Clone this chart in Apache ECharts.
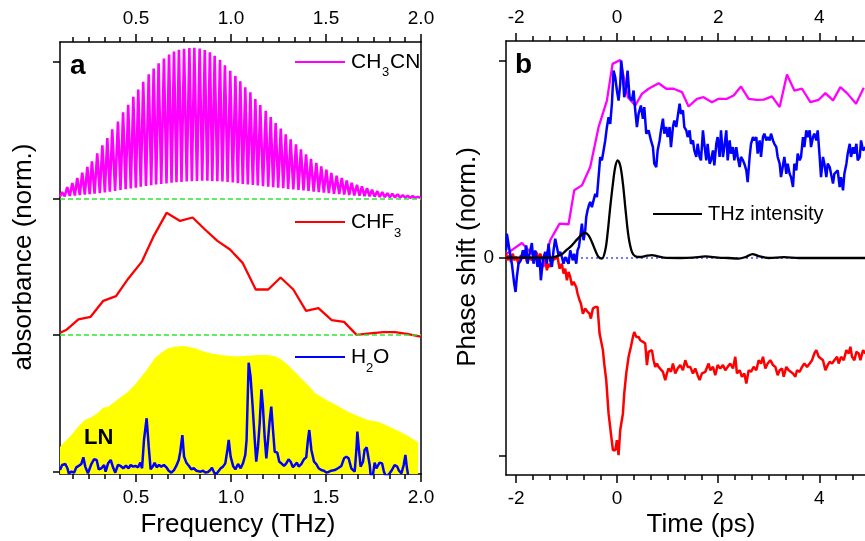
<!DOCTYPE html>
<html><head><meta charset="utf-8">
<script src="https://cdn.jsdelivr.net/npm/echarts@6/dist/echarts.min.js"></script>
<style>html,body{margin:0;padding:0;background:#fff}#c{width:865px;height:541px}</style>
</head><body><div id="c"></div>
<script>
// ---------- Panel a : tick values ----------
const majorA = [0.5, 1.0, 1.5, 2.0];
const minorA = [0.1667,0.25,0.3333,0.4167,0.5833,0.6667,0.75,0.8333,0.9167,1.0833,1.1667,1.25,1.3333,1.4167,1.5833,1.6667,1.75,1.8333,1.9167];
const yTicksA = [0, 1, 2, 3];
// ---------- Panel b : tick values ----------
const majorB = [-2, 0, 2, 4];
const minorB = [-1.6667,-1.3333,-1,-0.6667,-0.3333,0.3333,0.6667,1,1.3333,1.6667,2.3333,2.6667,3,3.3333,3.6667,4.3333,4.6667,5,5.3333];
const yTicksB = [-1, 0, 1];
const yLabelsB = [0];

// ---------- Panel a data ----------
// CH3CN comb: peak frequencies, peak heights, valley heights (offset +2)
const cnPeakF = [0.111,0.138,0.165,0.191,0.217,0.244,0.268,0.296,0.323,0.349,0.375,0.405,0.432,0.459,0.486,0.512,0.538,0.567,0.593,0.619,0.647,0.674,0.700,0.726,0.753,0.781,0.807,0.835,0.862,0.889,0.914,0.942,0.968,0.996,1.023,1.049,1.075,1.102,1.128,1.154,1.183,1.209,1.235,1.262,1.288,1.314,1.342,1.368,1.395,1.421,1.449,1.475,1.502,1.528,1.556,1.583,1.609,1.635,1.663,1.689,1.716,1.742,1.770,1.796,1.823,1.849,1.877,1.904,1.930,1.956,1.984];
const cnPeakH = [0.047,0.084,0.113,0.150,0.190,0.232,0.273,0.330,0.389,0.443,0.507,0.564,0.631,0.687,0.744,0.798,0.855,0.909,0.951,0.990,1.025,1.054,1.076,1.089,1.096,1.101,1.103,1.098,1.088,1.070,1.045,1.015,0.975,0.935,0.897,0.858,0.815,0.778,0.729,0.685,0.643,0.596,0.552,0.512,0.471,0.434,0.397,0.360,0.323,0.290,0.261,0.236,0.212,0.187,0.168,0.150,0.133,0.116,0.101,0.089,0.076,0.064,0.054,0.047,0.039,0.035,0.030,0.024,0.020,0.017,0.012];
const cnValley = [0.014,0.016,0.019,0.022,0.025,0.028,0.032,0.036,0.040,0.045,0.050,0.056,0.062,0.068,0.074,0.080,0.086,0.092,0.097,0.102,0.107,0.111,0.115,0.119,0.122,0.125,0.127,0.129,0.130,0.130,0.129,0.127,0.124,0.121,0.117,0.112,0.107,0.103,0.099,0.095,0.091,0.087,0.083,0.079,0.075,0.071,0.067,0.063,0.059,0.055,0.051,0.047,0.043,0.039,0.035,0.032,0.029,0.026,0.023,0.020,0.018,0.016,0.014,0.012,0.010,0.009,0.008,0.007,0.006,0.005,0.005,0.004];
// CHF3 (offset +1)
const chfF = [0.100,0.132,0.197,0.261,0.328,0.395,0.460,0.530,0.591,0.661,0.732,0.798,0.863,0.930,0.995,1.061,1.130,1.196,1.261,1.328,1.395,1.460,1.530,1.595,1.661,1.732,1.802,1.863,1.933,1.998];
const chfV = [0.017,0.037,0.115,0.134,0.251,0.285,0.415,0.536,0.719,0.895,0.836,0.861,0.773,0.688,0.627,0.529,0.334,0.334,0.422,0.334,0.178,0.198,0.110,0.097,0.002,0.012,0.022,0.022,0.007,-0.012];
// H2O
const h2oF = [0.100,0.111,0.128,0.139,0.146,0.160,0.174,0.186,0.198,0.212,0.223,0.233,0.247,0.265,0.279,0.293,0.304,0.318,0.332,0.340,0.353,0.367,0.379,0.391,0.405,0.419,0.433,0.447,0.461,0.472,0.484,0.497,0.511,0.523,0.532,0.542,0.556,0.567,0.577,0.590,0.598,0.609,0.621,0.633,0.647,0.660,0.672,0.686,0.700,0.712,0.725,0.733,0.744,0.753,0.765,0.779,0.791,0.804,0.818,0.826,0.840,0.853,0.865,0.879,0.891,0.900,0.911,0.923,0.935,0.946,0.958,0.970,0.981,0.988,0.998,1.011,1.023,
 1.037,1.051,1.063,1.075,1.082,1.093,1.103,1.114,1.125,1.133,1.142,1.151,1.160,1.168,1.177,1.186,1.195,1.203,1.212,1.221,1.230,1.244,1.254,1.265,1.279,1.291,1.303,1.314,1.326,1.335,1.347,1.356,1.370,1.384,1.396,1.405,1.412,1.423,1.437,1.449,1.461,1.475,1.489,1.502,1.514,1.528,1.546,1.563,1.581,1.595,1.607,1.619,1.633,1.651,1.660,1.665,1.672,1.682,1.695,1.703,1.714,1.721,1.730,1.735,1.747,1.756,1.765,1.774,1.782,1.795,1.805,1.812,1.823,1.835,1.847,1.861,1.875,1.884,1.897,1.909,1.918,1.925,1.932];
const h2oV = [0.012,0.049,0.056,0.025,-0.012,0.000,-0.007,0.032,0.042,0.056,0.105,0.037,-0.012,0.056,0.091,0.086,0.017,0.025,0.049,0.000,0.061,0.086,0.032,-0.007,0.049,0.042,0.025,0.044,0.025,0.049,0.037,0.042,0.032,0.066,0.025,0.232,0.391,0.183,0.017,0.042,0.066,0.032,0.049,0.037,0.049,0.032,0.007,-0.007,0.012,0.042,0.086,0.146,0.268,0.110,0.066,0.042,0.017,0.025,0.007,0.017,0.000,0.007,-0.007,-0.002,0.012,0.029,-0.007,-0.017,0.005,0.025,0.037,0.061,0.159,0.232,0.110,0.042,0.017,
 0.056,0.025,0.061,0.122,0.232,0.798,0.695,0.476,0.232,0.073,0.183,0.354,0.603,0.476,0.256,0.098,0.232,0.366,0.476,0.305,0.146,0.139,0.073,0.061,0.042,0.061,0.091,0.073,0.032,0.042,0.066,0.037,0.056,0.091,0.105,0.232,0.305,0.159,0.073,0.056,0.025,0.012,0.007,-0.007,-0.002,0.007,0.012,0.025,0.042,0.098,0.110,0.098,0.025,0.000,0.159,0.293,0.183,0.037,0.073,0.159,0.178,0.171,0.049,-0.024,-0.024,0.066,0.025,0.037,0.066,0.061,0.000,-0.024,-0.032,-0.012,0.012,0.049,0.037,0.007,-0.012,0.049,0.122,0.037,-0.024];
// LN spectrum (yellow)
const lnF = [0.100,0.125,0.160,0.195,0.230,0.265,0.300,0.326,0.353,0.388,0.423,0.458,0.493,0.528,0.563,0.598,0.633,0.668,0.704,0.739,0.774,0.809,0.844,0.879,0.914,0.949,0.984,1.019,1.037,1.090,1.142,1.195,1.230,1.265,1.300,1.335,1.370,1.405,1.440,1.475,1.510,1.563,1.616,1.668,1.721,1.774,1.826,1.879,1.932,1.984];
const lnV = [0.180,0.220,0.268,0.329,0.378,0.398,0.432,0.468,0.476,0.512,0.549,0.585,0.634,0.695,0.757,0.830,0.871,0.903,0.915,0.920,0.915,0.903,0.885,0.871,0.861,0.854,0.849,0.846,0.846,0.849,0.854,0.854,0.846,0.822,0.781,0.732,0.683,0.634,0.578,0.549,0.520,0.481,0.439,0.408,0.378,0.366,0.334,0.300,0.262,0.215];

// ---------- Panel b data ----------
const redT = [-2.196,-2.170,-2.130,-2.104,-2.064,-2.038,-1.998,-1.952,-1.906,-1.866,-1.820,-1.787,-1.734,-1.688,-1.655,-1.602,-1.556,-1.523,-1.470,-1.424,-1.391,-1.358,-1.325,-1.272,-1.226,-1.180,-1.140,-1.094,-1.061,-1.028,-0.995,-0.962,-0.929,-0.896,-0.863,-0.810,-0.784,-0.744,-0.718,-0.678,-0.632,-0.586,-0.546,-0.520,-0.480,-0.434,-0.388,-0.348,-0.315,-0.282,-0.256,-0.216,-0.170,-0.124,-0.084,-0.038,-0.005,0.028,0.061,0.114,0.140,0.180,0.226,0.272,0.312,0.339,0.378,0.424,0.457,0.510,0.556,0.589,0.622,0.655,0.688,0.721,0.754,0.787,0.820,0.853,0.906,0.952,0.985,1.018,1.065,1.104,1.150,1.197,1.249,1.302,1.348,1.395,1.447,1.500,1.546,1.593,
 1.632,1.678,1.744,1.810,1.843,1.896,1.942,1.989,2.041,2.094,2.140,2.187,2.239,2.292,2.338,2.371,2.424,2.470,2.517,2.556,2.603,2.649,2.702,2.754,2.801,2.847,2.886,2.933,2.979,3.032,3.084,3.131,3.177,3.216,3.263,3.296,3.348,3.395,3.428,3.480,3.527,3.560,3.612,3.659,3.705,3.758,3.810,3.857,3.903,3.942,3.989,4.022,4.074,4.121,4.167,4.206,4.253,4.299,4.352,4.385,4.431,4.484,4.537,4.583,4.616,4.649,4.695,4.735,4.781,4.814,4.867,4.913];
const redV = [0.022,-0.012,0.014,-0.020,0.022,-0.012,0.005,-0.029,0.014,-0.003,0.019,-0.020,0.005,-0.012,0.014,0.031,-0.003,0.022,-0.012,0.005,-0.062,-0.029,-0.045,-0.012,-0.003,0.005,-0.054,-0.029,-0.079,-0.054,-0.113,-0.071,-0.096,-0.138,-0.121,-0.147,-0.180,-0.214,-0.231,-0.282,-0.256,-0.273,-0.282,-0.307,-0.256,-0.248,-0.248,-0.383,-0.391,-0.467,-0.535,-0.619,-0.788,-0.889,-0.974,-0.974,-0.923,-0.999,-0.872,-0.788,-0.687,-0.585,-0.501,-0.450,-0.400,-0.375,-0.400,-0.400,-0.417,-0.425,-0.434,-0.543,-0.476,-0.484,-0.467,-0.518,-0.552,-0.535,-0.552,-0.543,-0.577,-0.619,-0.585,-0.560,-0.577,-0.535,-0.585,-0.560,-0.543,-0.569,-0.518,-0.552,-0.552,-0.585,-0.560,-0.594,
 -0.619,-0.585,-0.577,-0.535,-0.569,-0.552,-0.594,-0.543,-0.560,-0.543,-0.569,-0.552,-0.535,-0.560,-0.501,-0.585,-0.569,-0.602,-0.585,-0.636,-0.569,-0.577,-0.552,-0.569,-0.518,-0.535,-0.501,-0.560,-0.535,-0.518,-0.543,-0.552,-0.594,-0.569,-0.560,-0.602,-0.552,-0.569,-0.560,-0.585,-0.602,-0.569,-0.577,-0.552,-0.535,-0.552,-0.535,-0.518,-0.484,-0.467,-0.501,-0.501,-0.518,-0.569,-0.543,-0.526,-0.535,-0.518,-0.501,-0.535,-0.501,-0.518,-0.467,-0.484,-0.450,-0.501,-0.518,-0.476,-0.484,-0.518,-0.467,-0.484];
const blueT = [-2.196,-2.183,-2.130,-2.084,-2.038,-2.011,-1.985,-1.952,-1.906,-1.866,-1.840,-1.800,-1.774,-1.734,-1.688,-1.655,-1.622,-1.576,-1.536,-1.510,-1.470,-1.424,-1.391,-1.358,-1.325,-1.292,-1.259,-1.226,-1.193,-1.160,-1.127,-1.094,-1.061,-1.028,-0.995,-0.962,-0.929,-0.876,-0.850,-0.810,-0.784,-0.757,-0.731,-0.698,-0.665,-0.632,-0.612,-0.586,-0.559,-0.533,-0.500,-0.467,-0.434,-0.401,-0.368,-0.335,-0.302,-0.269,-0.236,-0.203,-0.170,-0.137,-0.104,-0.071,-0.038,-0.005,0.028,0.061,0.081,0.114,0.140,0.180,0.206,0.246,0.292,0.325,0.358,
 0.391,0.424,0.470,0.510,0.537,0.576,0.622,0.669,0.708,0.735,0.774,0.801,0.840,0.867,0.906,0.933,0.972,0.999,1.038,1.065,1.104,1.131,1.170,1.197,1.236,1.263,1.302,1.329,1.368,1.395,1.434,1.461,1.500,1.527,1.566,1.593,1.632,1.659,1.698,1.725,1.764,1.791,1.830,1.857,1.896,1.923,1.962,1.989,2.028,2.055,2.094,2.121,2.160,2.187,2.226,2.253,2.292,2.319,2.358,2.385,2.424,2.451,2.490,2.517,2.556,2.583,2.622,2.649,2.688,2.715,2.754,2.781,2.820,2.847,2.886,2.913,2.952,2.979,3.018,3.045,3.084,3.111,3.150,3.177,3.216,3.243,3.282,3.309,3.348,3.375,3.414,3.441,3.480,3.507,3.546,3.573,3.612,3.639,3.678,3.705,3.744,3.771,3.810,3.837,3.876,3.903,3.942,3.969,4.008,4.035,4.074,4.101,4.140,4.167,4.206,4.233,4.272,4.299,4.338,4.365,4.404,4.431,4.470,4.497,4.537,4.563,4.603,4.629,4.669,4.695,4.735,4.761,4.801,4.827,4.867,4.913];
const blueV = [0.039,0.123,0.039,-0.029,-0.130,-0.172,-0.096,-0.029,-0.012,0.039,-0.003,0.064,-0.029,0.022,0.076,-0.029,0.039,-0.045,0.005,-0.113,-0.012,0.031,-0.029,0.073,-0.012,-0.045,0.039,0.098,0.056,0.014,0.031,0.005,-0.029,0.005,-0.003,-0.029,0.039,-0.012,0.022,-0.029,0.039,0.056,0.107,0.174,0.090,0.140,0.208,0.242,0.267,0.284,0.258,0.292,0.326,0.309,0.410,0.512,0.495,0.545,0.596,0.663,0.714,0.680,0.782,0.950,0.917,0.849,0.798,0.883,1.001,0.917,0.815,0.866,0.950,0.815,0.798,0.849,0.748,
 0.664,0.731,0.773,0.706,0.765,0.630,0.647,0.596,0.562,0.478,0.461,0.545,0.596,0.647,0.706,0.630,0.664,0.613,0.664,0.562,0.664,0.697,0.664,0.714,0.782,0.731,0.748,0.664,0.647,0.613,0.647,0.579,0.596,0.545,0.512,0.579,0.512,0.495,0.647,0.579,0.495,0.579,0.478,0.495,0.545,0.469,0.579,0.613,0.512,0.647,0.512,0.562,0.647,0.495,0.596,0.529,0.562,0.495,0.562,0.512,0.461,0.512,0.495,0.478,0.444,0.385,0.512,0.579,0.613,0.596,0.613,0.529,0.596,0.512,0.613,0.630,0.596,0.613,0.596,0.630,0.596,0.579,0.562,0.512,0.478,0.410,0.410,0.512,0.427,0.478,0.427,0.410,0.360,0.478,0.444,0.529,0.495,0.512,0.613,0.562,0.647,0.613,0.647,0.562,0.613,0.630,0.596,0.647,0.512,0.410,0.512,0.478,0.410,0.478,0.461,0.461,0.377,0.427,0.427,0.444,0.360,0.410,0.343,0.427,0.478,0.529,0.579,0.512,0.562,0.529,0.579,0.495,0.512,0.596,0.545,0.562];
const magT = [-2.183,-1.886,-1.754,-1.622,-1.457,-1.325,-1.140,-0.962,-0.850,-0.698,-0.533,-0.368,-0.203,-0.091,0.061,0.213,0.358,0.490,0.622,0.820,0.972,1.117,1.282,1.414,1.579,1.711,1.876,2.008,2.173,2.305,2.451,2.603,2.768,2.900,3.065,3.216,3.361,3.507,3.659,3.824,3.989,4.121,4.273,4.418,4.563,4.728,4.880];
const magV = [0.022,0.076,0.039,0.005,-0.045,0.090,0.174,0.171,0.343,0.368,0.461,0.663,0.798,0.984,1.004,0.815,0.773,0.832,0.858,0.886,0.858,0.858,0.841,0.768,0.807,0.815,0.790,0.807,0.807,0.824,0.869,0.807,0.802,0.803,0.819,0.765,0.930,0.849,0.858,0.790,0.802,0.836,0.799,0.866,0.832,0.782,0.863];
const thzT = [-2.196,-1.325,-1.193,-1.094,-0.995,-0.896,-0.797,-0.698,-0.632,-0.566,-0.500,-0.434,-0.368,-0.302,-0.236,-0.190,-0.137,-0.084,-0.038,0.008,0.061,0.114,0.167,0.226,0.292,0.358,0.457,0.589,0.688,0.787,0.919,1.249,1.500,1.750,2.000,2.200,2.400,2.550,2.680,2.800,3.000,3.300,3.600,5.400];
const thzV = [0.002,0.002,0.009,0.019,0.042,0.064,0.093,0.118,0.127,0.115,0.081,0.039,0.005,-0.003,0.039,0.123,0.258,0.377,0.461,0.495,0.469,0.377,0.242,0.107,0.031,0.009,0.005,0.012,0.015,0.009,0.002,0.000,0.002,0.008,0.002,0.000,-0.003,0.006,0.020,0.010,0.000,0.004,0.000,0.000];

// ---------- build ----------
const zip = (a, b, off) => a.map((x, i) => [x, b[i] + (off || 0)]);
const cnData = [[0.1, 2 + cnValley[0]]];
for (let i = 0; i < cnPeakF.length; i++) {
  if (i > 0) cnData.push([(cnPeakF[i - 1] + cnPeakF[i]) / 2, 2 + cnValley[i]]);
  cnData.push([cnPeakF[i], 2 + cnPeakH[i]]);
}
cnData.push([2.0, 2 + cnValley[cnValley.length - 1]]);

const FONT = '"Liberation Sans", Arial, sans-serif';
const K = '#000';
function xAx(grid, pos, min, max, ticks, labels, len, lineShow, fmt) {
  return {
    type: 'value', gridIndex: grid, position: pos, min: min, max: max,
    axisLine: { show: lineShow, onZero: false, lineStyle: { color: K, width: 1.5 } },
    axisTick: { show: true, inside: false, length: len, customValues: ticks, lineStyle: { color: K, width: 1.5 } },
    axisLabel: labels ? { show: true, customValues: labels, margin: 14, fontSize: 19, color: K, fontFamily: FONT, hideOverlap: false,
      formatter: fmt } : { show: false },
    splitLine: { show: false }, minorTick: { show: false }
  };
}
function yAx(grid, pos, min, max, ticks, labels) {
  return {
    type: 'value', gridIndex: grid, position: pos, min: min, max: max,
    axisLine: { show: true, onZero: false, lineStyle: { color: K, width: 1.5 } },
    axisTick: ticks ? { show: true, inside: false, length: 7, customValues: ticks, lineStyle: { color: K, width: 1.5 } } : { show: false },
    axisLabel: labels ? { show: true, customValues: labels, margin: 12, fontSize: 19, color: K, fontFamily: FONT } : { show: false },
    splitLine: { show: false }
  };
}
const fmtA = v => v.toFixed(1);
const fmtB = v => String(Math.round(v));
function line(xi, yi, data, color, w, extra) {
  return Object.assign({ type: 'line', xAxisIndex: xi, yAxisIndex: yi, data: data, showSymbol: false, symbol: 'none',
    lineStyle: { color: color, width: w }, itemStyle: { color: color }, emphasis: { disabled: true }, silent: true, animation: false }, extra || {});
}

const option = {
  animation: false,
  backgroundColor: '#fff',
  grid: [
    { left: 60, top: 42, width: 361, height: 432, containLabel: false, outerBoundsMode: 'none' },
    { left: 506, top: 41, width: 384, height: 434, containLabel: false, outerBoundsMode: 'none' }
  ],
  xAxis: [
    xAx(0, 'bottom', 0.1, 2.0, majorA, majorA, 8, true, fmtA),
    xAx(0, 'top', 0.1, 2.0, majorA, majorA, 8, true, fmtA),
    xAx(0, 'bottom', 0.1, 2.0, minorA, null, 5, false),
    xAx(0, 'top', 0.1, 2.0, minorA, null, 5, false),
    xAx(1, 'bottom', -2.2, 5.4, majorB, majorB, 8, true, fmtB),
    xAx(1, 'top', -2.2, 5.4, majorB, majorB, 8, true, fmtB),
    xAx(1, 'bottom', -2.2, 5.4, minorB, null, 5, false),
    xAx(1, 'top', -2.2, 5.4, minorB, null, 5, false)
  ],
  yAxis: [
    yAx(0, 'left', -0.017, 3.146, yTicksA, null),
    yAx(0, 'right', -0.017, 3.146, null, null),
    yAx(1, 'left', -1.1, 1.1, yTicksB, yLabelsB),
    yAx(1, 'right', -1.1, 1.1, null, null)
  ],
  series: [
    line(0, 0, zip(lnF, lnV), '#ffff00', 0, { lineStyle: { width: 0, color: '#ffff00' }, areaStyle: { color: '#ffff00', opacity: 1, origin: 'start' }, z: 1 }),
    line(0, 0, cnData, '#ff00ff', 2.6, { z: 3,
      markLine: { silent: true, symbol: ['none', 'none'], label: { show: false }, animation: false,
        lineStyle: { color: '#2ee82e', type: [5, 3], width: 1.5 }, data: [{ yAxis: 2 }, { yAxis: 1 }] } }),
    line(0, 0, zip(chfF, chfV, 1), '#ff0000', 2.3, { z: 3 }),
    line(0, 0, zip(h2oF, h2oV), '#0000ff', 2.5, { z: 3 }),
    line(4, 2, [[-2.2, 0], [5.4, 0]], '#4a4aff', 1.5, { lineStyle: { color: '#4a4aff', width: 1.5, type: [2, 3] }, z: 2 }),
    line(4, 2, zip(magT, magV), '#ff00ff', 2.3, { z: 3 }),
    line(4, 2, zip(redT, redV), '#ff0000', 2.5, { z: 4 }),
    line(4, 2, zip(blueT, blueV), '#0000ff', 2.5, { z: 5 }),
    line(4, 2, zip(thzT, thzV), '#000000', 2.3, { z: 6, smooth: 0.35 })
  ],
  graphic: [
    { type: 'text', x: 70, y: 66, z: 100, style: { text: 'a', fontSize: 28, fontWeight: 'bold', fontFamily: FONT, fill: K, align: 'left', verticalAlign: 'middle' } },
    { type: 'text', x: 515, y: 65, z: 100, style: { text: 'b', fontSize: 28, fontWeight: 'bold', fontFamily: FONT, fill: K, align: 'left', verticalAlign: 'middle' } },
    { type: 'text', x: 84, y: 438, z: 100, style: { text: 'LN', fontSize: 22, fontWeight: 'bold', fontFamily: FONT, fill: K, align: 'left', verticalAlign: 'middle' } },
    // legends panel a
    { type: 'line', z: 100, shape: { x1: 295, y1: 62, x2: 345, y2: 62 }, style: { stroke: '#ff00ff', lineWidth: 2 } },
    { type: 'text', x: 351, y: 62, z: 100, style: { text: 'CH', fontSize: 21, fontFamily: FONT, fill: K, align: 'left', verticalAlign: 'middle' } },
    { type: 'text', x: 382, y: 72, z: 100, style: { text: '3', fontSize: 13, fontFamily: FONT, fill: K, align: 'left', verticalAlign: 'middle' } },
    { type: 'text', x: 390, y: 62, z: 100, style: { text: 'CN', fontSize: 21, fontFamily: FONT, fill: K, align: 'left', verticalAlign: 'middle' } },
    { type: 'line', z: 100, shape: { x1: 295, y1: 222, x2: 345, y2: 222 }, style: { stroke: '#ff0000', lineWidth: 2 } },
    { type: 'text', x: 351, y: 222, z: 100, style: { text: 'CHF', fontSize: 21, fontFamily: FONT, fill: K, align: 'left', verticalAlign: 'middle' } },
    { type: 'text', x: 394, y: 233, z: 100, style: { text: '3', fontSize: 13, fontFamily: FONT, fill: K, align: 'left', verticalAlign: 'middle' } },
    { type: 'line', z: 100, shape: { x1: 295, y1: 357, x2: 345, y2: 357 }, style: { stroke: '#0000ff', lineWidth: 2 } },
    { type: 'text', x: 351, y: 357, z: 100, style: { text: 'H', fontSize: 21, fontFamily: FONT, fill: K, align: 'left', verticalAlign: 'middle' } },
    { type: 'text', x: 366, y: 368, z: 100, style: { text: '2', fontSize: 13, fontFamily: FONT, fill: K, align: 'left', verticalAlign: 'middle' } },
    { type: 'text', x: 373, y: 357, z: 100, style: { text: 'O', fontSize: 21, fontFamily: FONT, fill: K, align: 'left', verticalAlign: 'middle' } },
    // legend panel b
    { type: 'line', z: 100, shape: { x1: 653, y1: 214, x2: 702, y2: 214 }, style: { stroke: '#000', lineWidth: 2 } },
    { type: 'text', x: 708, y: 214, z: 100, style: { text: 'THz intensity', fontSize: 20, fontFamily: FONT, fill: K, align: 'left', verticalAlign: 'middle' } },
    // axis titles
    { type: 'text', x: 238, y: 525, z: 100, style: { text: 'Frequency (THz)', fontSize: 26, fontFamily: FONT, fill: K, align: 'center', verticalAlign: 'middle' } },
    { type: 'text', x: 701, y: 525, z: 100, style: { text: 'Time (ps)', fontSize: 26, fontFamily: FONT, fill: K, align: 'center', verticalAlign: 'middle' } },
    { type: 'text', x: 24, y: 257, z: 100, rotation: Math.PI / 2, style: { text: 'absorbance (norm.)', fontSize: 26, fontFamily: FONT, fill: K, align: 'center', verticalAlign: 'middle' } },
    { type: 'text', x: 468, y: 257, z: 100, rotation: Math.PI / 2, style: { text: 'Phase shift (norm.)', fontSize: 26, fontFamily: FONT, fill: K, align: 'center', verticalAlign: 'middle' } }
  ]
};
const chart = echarts.init(document.getElementById('c'), null, { renderer: 'canvas', width: 865, height: 541 });
chart.setOption(option);
</script>
</body></html>
